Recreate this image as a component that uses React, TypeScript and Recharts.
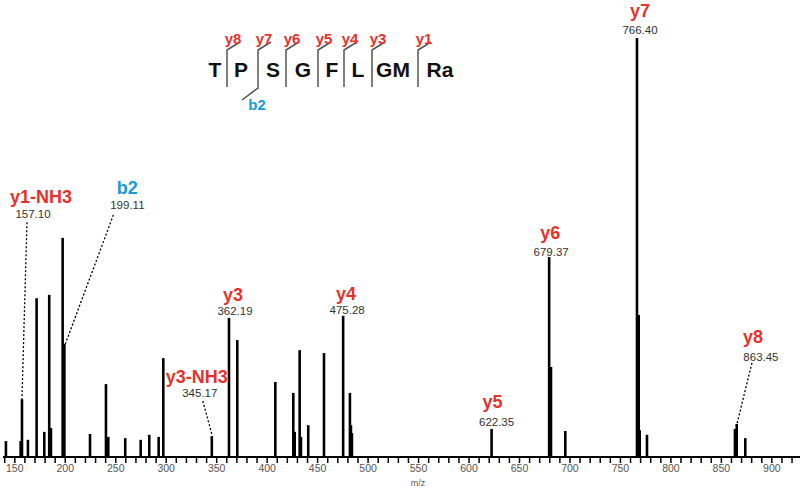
import React from 'react'
import { ComposedChart, XAxis, YAxis, ReferenceLine, ReferenceDot } from 'recharts'

// MS/MS peak list (m/z, relative intensity %)
const peakMz = [
  141.2, 155.8, 157.1, 163.0, 171.6, 179.2, 184.1, 185.8, 197.4, 199.11,
  224.5, 240.3, 242.6, 259.4, 274.7, 283.2, 292.5, 297.1, 345.17, 362.19,
  370.4, 408.1, 425.9, 427.3, 432.2, 433.5, 440.7, 456.3, 475.28, 482.0,
  483.0, 484.0, 622.35, 679.37, 681.2, 695.4, 766.4, 768.1, 769.1, 776.3,
  863.45, 865.2, 873.7,
]
const peakIntensity = [
  3.8, 3.8, 13.8, 4.1, 37.9, 6.0, 38.7, 6.9, 52.3, 27.0,
  5.5, 17.4, 4.8, 4.5, 4.1, 5.3, 4.8, 23.6, 5.0, 33.2,
  27.9, 17.9, 15.3, 6.0, 25.5, 4.8, 7.6, 24.8, 33.7, 15.3,
  7.6, 5.7, 6.7, 47.7, 21.5, 6.2, 100, 33.9, 6.4, 5.3,
  6.7, 7.9, 4.5,
]

// annotated fragment ions
const ionNames = ['y1-NH3', 'b2', 'y3-NH3', 'y3', 'y4', 'y5', 'y6', 'y7', 'y8']
const ionMz = [157.1, 199.11, 345.17, 362.19, 475.28, 622.35, 679.37, 766.4, 863.45]
const ionText = ['157.10', '199.11', '345.17', '362.19', '475.28', '622.35', '679.37', '766.40', '863.45']

const xTicks: number[] = []
for (let v = 140; v <= 920; v += 10) xTicks.push(v)

const RED = '#e8302c'
const BLUE = '#1b9ad6'
const FONT = 'Liberation Sans, Arial, sans-serif'

// label placement relative to the peak top (px)
const labelPos: Record<string, { ion: [number, number]; num: [number, number]; lead?: [number, number, number, number] }> = {
  'y1-NH3': { ion: [19, -202], num: [11, -185], lead: [5, -177, 0, 0] },
  b2: { ion: [63, -156], num: [63, -139], lead: [49, -129, 1, 0] },
  'y3-NH3': { ion: [-15, -59], num: [-12, -43], lead: [-9, -35, 0, -2] },
  y3: { ion: [4, -23], num: [6, -7] },
  y4: { ion: [3, -22], num: [4, -6] },
  y5: { ion: [1, -27], num: [5, -7] },
  y6: { ion: [1, -24], num: [2, -5] },
  y7: { ion: [3, -27], num: [3, -8] },
  y8: { ion: [18, -92], num: [26, -72], lead: [17, -66, 2, -5] },
}

const intensityAt = (mz: number) => {
  const i = peakMz.findIndex((m) => Math.abs(m - mz) < 0.5)
  return i >= 0 ? peakIntensity[i] : 0
}

function IonLabel(props: any) {
  const { cx, cy, name, text } = props
  const pos = labelPos[name]
  const color = name.startsWith('b') ? BLUE : RED
  return (
    <g>
      {pos.lead && (
        <line
          x1={cx + pos.lead[0]}
          y1={cy + pos.lead[1]}
          x2={cx + pos.lead[2]}
          y2={cy + pos.lead[3]}
          stroke="#000"
          strokeWidth={1.3}
          strokeDasharray="2 2"
        />
      )}
      <text
        x={cx + pos.ion[0]}
        y={cy + pos.ion[1]}
        textAnchor="middle"
        dominantBaseline="central"
        fontFamily={FONT}
        fontWeight="bold"
        fontSize={18}
        fill={color}
      >
        {name}
      </text>
      <text
        x={cx + pos.num[0]}
        y={cy + pos.num[1]}
        textAnchor="middle"
        dominantBaseline="central"
        fontFamily={FONT}
        fontSize={11.5}
        fill="#333"
      >
        {text}
      </text>
    </g>
  )
}

// peptide sequence with fragment cleavage marks
const seqLetters = ['T', 'P', 'S', 'G', 'F', 'L', 'GM', 'Ra']
const seqLetterX = [215, 241, 273, 303, 332, 358, 393, 440]
const cutNames = ['y8', 'y7', 'y6', 'y5', 'y4', 'y3', 'y1']
const cutX = [227, 258, 286, 318, 344, 372, 418]

function Sequence() {
  return (
    <svg width={800} height={492} style={{ position: 'absolute', left: 0, top: 0, pointerEvents: 'none' }}>
      {seqLetters.map((s, i) => (
        <text key={s + i} x={seqLetterX[i]} y={77} textAnchor="middle" fontFamily={FONT} fontWeight="bold" fontSize={21} fill="#111">
          {s}
        </text>
      ))}
      {cutX.map((x, i) => (
        <g key={cutNames[i]}>
          <polyline points={`${x},${i === 1 ? 89 : 87} ${x},50 ${x + 13},42`} fill="none" stroke="#555" strokeWidth={1.5} />
          <text x={x + 6} y={38} textAnchor="middle" dominantBaseline="central" fontFamily={FONT} fontWeight="bold" fontSize={15} fill={RED}>
            {cutNames[i]}
          </text>
        </g>
      ))}
      <line x1={258} y1={88} x2={242} y2={100} stroke="#555" strokeWidth={1.5} />
      <text x={257} y={104} textAnchor="middle" dominantBaseline="central" fontFamily={FONT} fontWeight="bold" fontSize={15} fill={BLUE}>
        b2
      </text>
      <text x={418} y={483} textAnchor="middle" dominantBaseline="central" fontFamily={FONT} fontSize={9} fill="#555">
        m/z
      </text>
    </svg>
  )
}

export default function App() {
  return (
    <div style={{ position: 'absolute', left: 0, top: 0, width: 800, height: 492, background: '#fff' }}>
      <ComposedChart width={800} height={492} margin={{ top: 38, right: 0, bottom: 0, left: 3 }}>
        <XAxis
          type="number"
          dataKey="mz"
          domain={[138.3, 927.9]}
          ticks={xTicks}
          interval={0}
          allowDataOverflow
          height={35}
          tickSize={6}
          tickMargin={2}
          axisLine={{ stroke: '#000', strokeWidth: 2 }}
          tickLine={{ stroke: '#000', strokeWidth: 1.5 }}
          tick={{ fontSize: 10.5, fill: '#555', fontFamily: FONT }}
          tickFormatter={(v: number) => (v % 50 === 0 ? String(v) : '')}
        />
        <YAxis type="number" domain={[0, 100]} hide allowDataOverflow />
        {peakMz.map((m, i) => (
          <ReferenceLine
            key={'p' + i}
            segment={[
              { x: m, y: 0 },
              { x: m, y: peakIntensity[i] },
            ]}
            stroke="#000"
            strokeWidth={2.6}
            ifOverflow="visible"
          />
        ))}
        {ionNames.map((n, i) => (
          <ReferenceDot
            key={n}
            x={ionMz[i]}
            y={intensityAt(ionMz[i])}
            r={0}
            ifOverflow="visible"
            shape={(p: any) => <IonLabel {...p} name={n} text={ionText[i]} />}
          />
        ))}
      </ComposedChart>
      <Sequence />
    </div>
  )
}
